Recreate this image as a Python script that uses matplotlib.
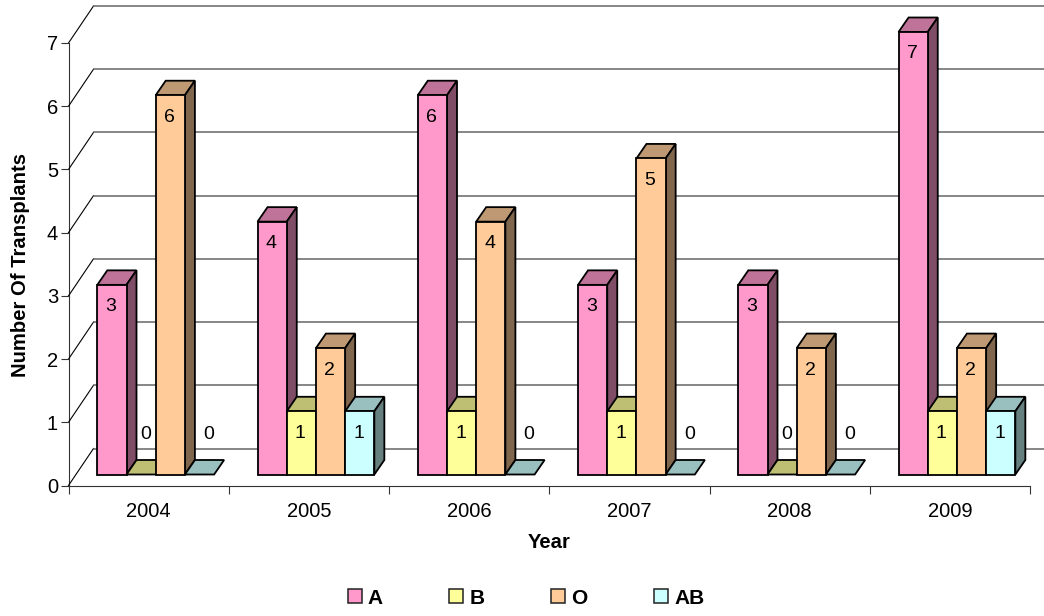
import matplotlib
matplotlib.use("Agg")
import matplotlib.pyplot as plt
from matplotlib.patches import Polygon, Patch
import numpy as np

plt.rcParams['font.family'] = ['Liberation Sans', 'DejaVu Sans']

years = ["2004", "2005", "2006", "2007", "2008", "2009"]
groups = ["A", "B", "O", "AB"]
a_vals = [3, 4, 6, 3, 3, 7]
b_vals = [0, 1, 1, 1, 0, 1]
o_vals = [6, 2, 4, 5, 2, 2]
ab_vals = [0, 1, 0, 0, 0, 1]
colors = ["#FF99CC", "#FFFF99", "#FFCC99", "#CCFFFF"]
y_ticks = [0, 1, 2, 3, 4, 5, 6, 7]

W, H = 1044, 616
left, right, y0, y7 = 68.5, 1030.0, 485.5, 43.0

fig = plt.figure(figsize=(W / 100, H / 100), dpi=100)
ax = fig.add_axes([left / W, 1 - y0 / H, (right - left) / W, (y0 - y7) / H])
ax.set_xlim(0, len(years))
ax.set_ylim(0, 7)
ax.patch.set_visible(False)

# pixel -> data helpers for the fake 3d depth
px = len(years) / (right - left)
py = 7 / (y0 - y7)
wall_dx, wall_dy = 25 * px, 37 * py
bar_dx, bar_dy = 10 * px, 14.5 * py
base_dy = 11 * py
bar_w = 29.2 * px
start = 28.8 * px


def shade(c, f):
    rgb = np.array(matplotlib.colors.to_rgb(c))
    return tuple(rgb * f)


# back wall
for t in y_ticks:
    ax.plot([0, wall_dx], [t, t + wall_dy], color="black", lw=0.8, clip_on=False, zorder=1)
    ax.plot([wall_dx, (1044 - left) * px], [t + wall_dy, t + wall_dy], color="#666666", lw=1.1,
            clip_on=False, zorder=1)

# bars, left to right so each front hides the side of the previous one
series = [a_vals, b_vals, o_vals, ab_vals]
z = 2
for i in range(len(years)):
    for j, vals in enumerate(series):
        v = vals[i]
        x = i + start + j * bar_w
        b = base_dy
        top = [(x, b + v), (x + bar_w, b + v), (x + bar_w + bar_dx, b + v + bar_dy), (x + bar_dx, b + v + bar_dy)]
        side = [(x + bar_w, b), (x + bar_w + bar_dx, b + bar_dy), (x + bar_w + bar_dx, b + v + bar_dy), (x + bar_w, b + v)]
        front = [(x, b), (x + bar_w, b), (x + bar_w, b + v), (x, b + v)]
        for pts, f in [(top, 0.75), (side, 0.5), (front, 1.0)]:
            if v == 0 and f != 0.75:
                continue
            ax.add_patch(Polygon(pts, closed=True, facecolor=shade(colors[j], f), edgecolor="black",
                                 lw=1.3, joinstyle="miter", clip_on=False, zorder=z))
            z += 1
        if v == 0:
            off = 5 if j == 1 else 9
            ax.text(x + bar_w / 2 + off * px, b + 40 * py, "0", ha="center", va="center", fontsize=14,
                    zorder=1000)
        else:
            ax.text(x + bar_w / 2 - 1 * px, b + v - 22 * py, str(v), ha="center", va="center", fontsize=14,
                    zorder=1000)

ax.spines["top"].set_visible(False)
ax.spines["right"].set_visible(False)
for s in ["left", "bottom"]:
    ax.spines[s].set_color("#333333")
    ax.spines[s].set_linewidth(0.8)
    ax.spines[s].set_zorder(0.5)

ax.set_yticks(y_ticks)
ax.set_xticks(range(len(years) + 1))
ax.set_xticklabels([])
ax.set_xticks(np.arange(len(years)) + 0.5, minor=True)
ax.set_xticklabels(years, minor=True)
ax.tick_params(axis="x", which="major", length=6, width=0.8, color="#333333")
ax.tick_params(axis="x", which="minor", length=0, labelsize=14.5, pad=12)
ax.tick_params(axis="y", length=6, width=0.8, color="#333333", labelsize=14.5, pad=1.5)

fig.text(20.5 / W, 1 - 265 / H, "Number Of Transplants", rotation=90, ha="center", va="center",
         fontsize=14.6, fontweight="bold")
fig.text(549 / W, 1 - 542 / H, "Year", ha="center", va="center", fontsize=14.6, fontweight="bold")

handles = [Patch(facecolor=c, edgecolor="#222222", lw=1.1) for c in colors]
leg = fig.legend(handles, groups, ncol=4, loc="center", bbox_to_anchor=(526 / W, 1 - 598 / H), frameon=False,
                 prop={"weight": "bold", "size": 15}, handlelength=0.67, handleheight=0.67,
                 handletextpad=0.29, columnspacing=3.2)

fig.savefig("out.png", dpi=100)
